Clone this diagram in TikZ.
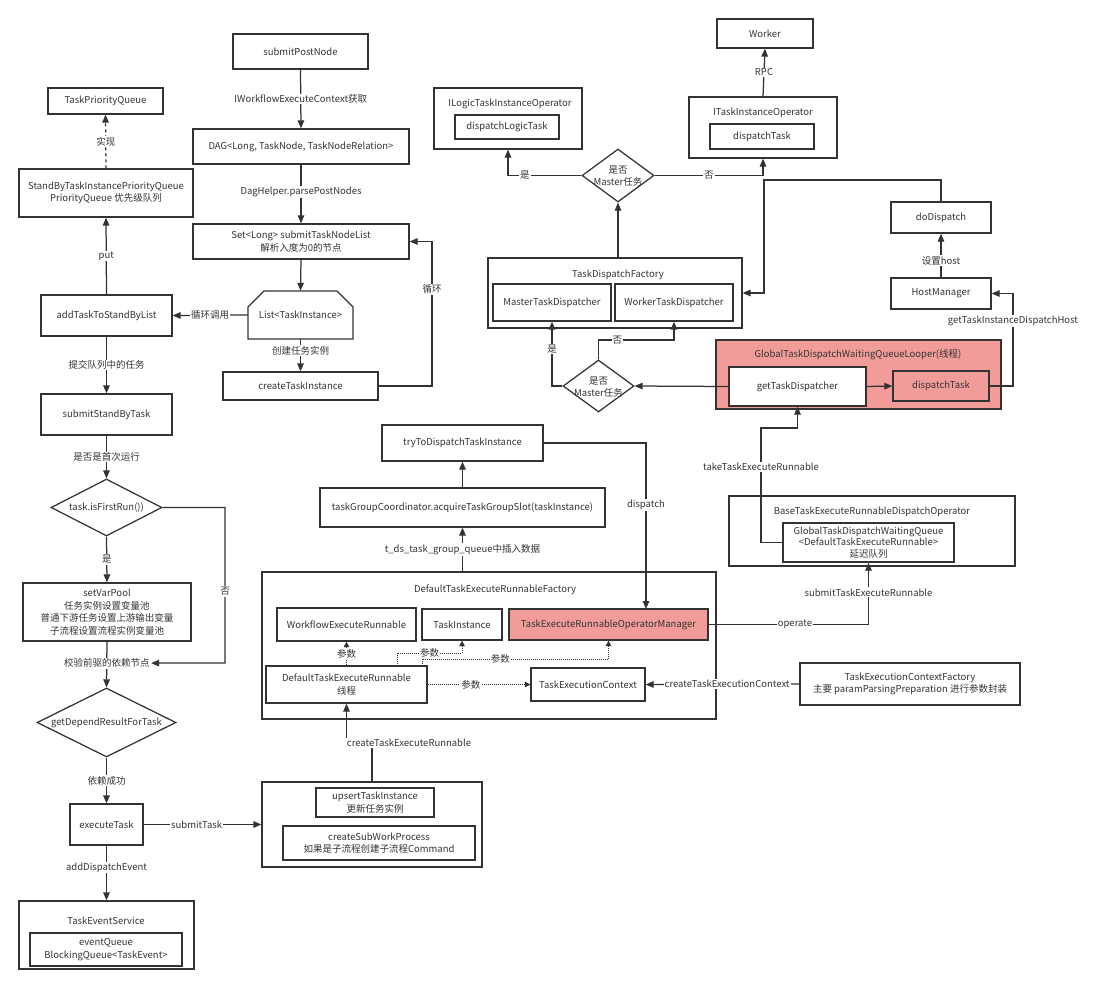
\documentclass[tikz,border=0pt]{standalone}
\usepackage{fontspec}
\setmainfont{Noto Sans CJK SC}
\usetikzlibrary{arrows.meta,shapes.geometric,calc}
\definecolor{ink}{HTML}{333333}
\definecolor{redf}{HTML}{F19C99}
\begin{document}
\begin{tikzpicture}[x=1pt,y=-1pt,
  every node/.style={font=\fontsize{9.5}{12.5}\selectfont, text=ink},
  box/.style={draw=ink, line width=1.25pt, fill=white, inner sep=1pt, align=center},
  cont/.style={draw=ink, line width=1.25pt, fill=white, inner sep=0pt},
  dia/.style={draw=ink, line width=1.25pt, fill=white, diamond, inner sep=0pt},
  txt/.style={align=center, inner sep=0pt},
  wire/.style={draw=ink, line width=1.25pt},
  arr/.style={draw=ink, line width=1.25pt, -{Triangle[length=8pt,width=6.5pt]}},
  darr/.style={draw=ink, line width=1pt, densely dotted, -{Triangle[length=5.5pt,width=5.5pt]}},
  lbl/.style={fill=white, inner sep=1pt, align=center}
]
\path[fill=white] (0,0) rectangle (1098,988);
\useasboundingbox (0,0) rectangle (1098,988);

% ---------------- left column ----------------
\node[box, minimum width=115pt, minimum height=26pt] (tpq) at (105.5,101) {TaskPriorityQueue};
\node[box, minimum width=174pt, minimum height=48pt] (sbq) at (106,193) {StandByTaskInstancePriorityQueue\\PriorityQueue 优先级队列};
\node[box, minimum width=131pt, minimum height=41pt] (add) at (106.5,315.5) {addTaskToStandByList};
\node[box, minimum width=131pt, minimum height=41pt] (sst) at (106.5,414.5) {submitStandByTask};
\node[dia, minimum width=111pt, minimum height=57pt] (fr) at (106.5,507.5) {};
\node[txt] (frt) at (fr) {task.isFirstRun())};
\node[box, minimum width=168pt, minimum height=58pt] (svp) at (107,612) {setVarPool\\任务实例设置变量池\\普通下游任务设置上游输出变量\\子流程设置流程实例变量池};
\node[dia, minimum width=139pt, minimum height=69pt] (gd) at (106.5,722.5) {};
\node[txt] (gdt) at (gd) {getDependResultForTask};
\node[box, minimum width=73pt, minimum height=41pt] (ex) at (106.5,824.5) {executeTask};
\node[cont, minimum width=175pt, minimum height=68pt] (tes) at (106.5,935) {};
\node[txt] (test) at (106,921) {TaskEventService};
\node[box, minimum width=152pt, minimum height=33pt] (eq) at (106,949.5) {eventQueue\\BlockingQueue<TaskEvent>};

% ---------------- middle top column ----------------
\node[box, minimum width=135pt, minimum height=35pt] (spn) at (300.5,51.5) {submitPostNode};
\node[box, minimum width=216pt, minimum height=35pt] (dag) at (301,146.5) {DAG<Long, TaskNode, TaskNodeRelation>};
\node[box, minimum width=216pt, minimum height=35pt] (set) at (301,241.5) {Set<Long> submitTaskNodeList\\解析入度为0的节点};
\draw[wire, fill=white] (248,339) -- (248,307) -- (264,291) -- (337,291) -- (353,307) -- (353,339) -- cycle;
\node[txt, minimum width=105pt, minimum height=48pt] (lst) at (300.5,315) {List<TaskInstance>};
\node[box, minimum width=155pt, minimum height=28pt] (cti) at (300.5,386) {createTaskInstance};

% ---------------- top right ----------------
\node[box, minimum width=96pt, minimum height=29pt] (wk) at (765,33.5) {Worker};
\node[cont, minimum width=148pt, minimum height=61pt] (ilo) at (508,118.5) {};
\node[txt] (ilot) at (510,104) {ILogicTaskInstanceOperator};
\node[box, minimum width=104pt, minimum height=24pt] (dlt) at (507,127) {dispatchLogicTask};
\node[cont, minimum width=148pt, minimum height=61pt] (ito) at (763,127.5) {};
\node[txt] (itot) at (763,113) {ITaskInstanceOperator};
\node[box, minimum width=104pt, minimum height=25pt] (dt1) at (762,136.5) {dispatchTask};
\node[dia, minimum width=72pt, minimum height=53pt] (d1) at (618,175.5) {};
\node[txt] (d1t) at (618,176) {是否\\Master任务};
\node[cont, minimum width=254pt, minimum height=70pt] (tdf) at (615,293) {};
\node[txt] (tdft) at (618,275) {TaskDispatchFactory};
\node[box, minimum width=118pt, minimum height=37pt] (mtd) at (552,302.5) {MasterTaskDispatcher};
\node[box, minimum width=118pt, minimum height=37pt] (wtd) at (674,302.5) {WorkerTaskDispatcher};
\node[dia, minimum width=71pt, minimum height=52pt] (d2) at (598.5,386) {};
\node[txt] (d2t) at (598.5,387) {是否\\Master任务};
\node[box, minimum width=100pt, minimum height=31pt] (dd) at (941,217.5) {doDispatch};
\node[box, minimum width=100pt, minimum height=31pt] (hm) at (941,293.5) {HostManager};
\node[cont, fill=redf, minimum width=285pt, minimum height=69pt] (gl) at (858.5,374.5) {};
\node[txt] (glt) at (858,355) {GlobalTaskDispatchWaitingQueueLooper(线程)};
\node[box, minimum width=137pt, minimum height=39pt] (gtd) at (797.5,386.5) {getTaskDispatcher};
\node[box, fill=redf, minimum width=96pt, minimum height=30pt] (dt2) at (941,386) {dispatchTask};

% ---------------- middle ----------------
\node[box, minimum width=161pt, minimum height=36pt] (try) at (462.5,443) {tryToDispatchTaskInstance};
\node[box, minimum width=285pt, minimum height=39pt] (tgc) at (462.5,507.5) {taskGroupCoordinator.acquireTaskGroupSlot(taskInstance)};
\node[cont, minimum width=454pt, minimum height=147pt] (fac) at (489,645.5) {};
\node[txt] (fact) at (495,590) {DefaultTaskExecuteRunnableFactory};
\node[box, minimum width=139pt, minimum height=33pt] (wer) at (346.5,624.5) {WorkflowExecuteRunnable};
\node[box, minimum width=80pt, minimum height=31pt] (ti) at (462,624.5) {TaskInstance};
\node[box, fill=redf, minimum width=199pt, minimum height=31pt] (trom) at (608.5,624.5) {TaskExecuteRunnableOperatorManager};
\node[box, minimum width=161pt, minimum height=37pt] (dter) at (346.5,684.5) {DefaultTaskExecuteRunnable\\线程};
\node[box, minimum width=114pt, minimum height=33pt] (tec) at (588,684.5) {TaskExecutionContext};
\node[cont, minimum width=286pt, minimum height=70pt] (bo) at (872,531) {};
\node[txt] (bot) at (872,512) {BaseTaskExecuteRunnableDispatchOperator};
\node[box, minimum width=171pt, minimum height=39pt, inner sep=0pt, font=\fontsize{9.5}{11.5}\selectfont] (gq) at (868.5,542.5) {GlobalTaskDispatchWaitingQueue\\<DefaultTaskExecuteRunnable>\\延迟队列};
\node[box, minimum width=220pt, minimum height=42pt] (tecf) at (910,684) {TaskExecutionContextFactory\\主要 paramParsingPreparation 进行参数封装};
\node[cont, minimum width=220pt, minimum height=85pt] (ups) at (372,824.5) {};
\node[box, minimum width=118pt, minimum height=29pt] (up) at (375,802.5) {upsertTaskInstance\\更新任务实例};
\node[box, minimum width=192pt, minimum height=34pt] (csw) at (379,843) {createSubWorkProcess\\如果是子流程创建子流程Command};

% ---------------- connectors: left ----------------
\draw[arr, dashed] (sbq.north) -- node[lbl]{实现} (tpq.south);
\draw[arr] (add.north) -- node[lbl]{put} (sbq.south);
\draw[arr] (lst.west) -- node[lbl]{循环调用} (add.east);
\draw[arr] (add.south) -- node[lbl]{提交队列中的任务} (sst.north);
\draw[arr] (sst.south) -- node[lbl]{是否是首次运行} (fr.north);
\draw[arr] (fr.south) -- node[lbl]{是} (svp.north);
\draw[arr] (svp.south) -- node[lbl, pos=.47] (chk) {校验前驱的依赖节点} (gd.north);
\draw[arr] (fr.east) -- (225,507.5) -- node[lbl, pos=.54]{否} (225,663) -- (chk.east);
\draw[arr] (gd.south) -- node[lbl]{依赖成功} (ex.north);
\draw[arr] (ex.south) -- node[lbl, pos=.4]{addDispatchEvent} (tes.north);
\draw[arr] (ex.east) -- node[lbl, pos=.45]{submitTask} (ups.west);

% ---------------- connectors: middle top ----------------
\draw[arr] (spn.south) -- node[lbl]{IWorkflowExecuteContext获取} (dag.north);
\draw[arr] (dag.south) -- node[lbl, pos=.47]{DagHelper.parsePostNodes} (set.north);
\draw[arr] (set.south) -- (lst.north);
\draw[arr] (lst.south) -- node[lbl, pos=.35]{创建任务实例} (cti.north);
\draw[arr] (cti.east) -- (432,386) -- node[lbl, pos=.67]{循环} (432,241.5) -- (set.east);

% ---------------- connectors: top right ----------------
\draw[arr] (ito.north) -- node[lbl]{RPC} (wk.south);
\draw[arr] (d1.west) -| node[lbl, pos=.385]{是} (ilo.south);
\draw[arr] (d1.east) -| node[lbl, pos=.25]{否} (ito.south);
\draw[arr] (tdf.north -| d1.south) -- (d1.south);
\draw[arr] (d2.west) -| node[lbl, pos=.785]{是} (mtd.south);
\draw[arr] (d2.north) -- (598.5,340) -- node[lbl, pos=.25]{否} (674,340) -- (wtd.south);
\draw[arr] (gtd.west) -- (d2.east);
\draw[arr] (gtd.east) -- (dt2.west);
\draw[arr] (dt2.east) -- (1013,386) -- node[lbl, pos=.7]{getTaskInstanceDispatchHost} (1013,293.5) -- (hm.east);
\draw[arr] (hm.north) -- node[lbl, pos=.38]{设置host} (dd.south);
\draw[arr] (dd.north) -- (941,180) -- (764,180) -- (764,293) -- (tdf.east);

% ---------------- connectors: middle ----------------
\draw[arr] (tgc.north) -- (try.south);
\draw[arr] (tgc.south |- fac.north) -- node[lbl, pos=.5]{t\_ds\_task\_group\_queue中插入数据} (tgc.south);
\coordinate (dpin) at (646,609);
\draw[arr] (try.east) -| node[lbl, pos=.687]{dispatch} (dpin);
\draw[arr] (trom.east) -| node[lbl, pos=.27]{operate} node[lbl, pos=.76]{submitTaskExecuteRunnable} (gq.south);
\draw[arr] (gq.west) -- (761,542.5) -- node[lbl, pos=.66]{takeTaskExecuteRunnable} (761,428) -- (797.5,428) -- (gtd.south);
\draw[arr] (tecf.west) -- node[lbl, pos=.47]{createTaskExecutionContext} (tec.east);
\draw[darr] (dter.north) -- node[lbl]{参数} (wer.south);
\draw[darr] (397,666) -- (397,653) -- node[lbl, pos=.5]{参数} (462,653) -- (ti.south);
\draw[darr] (422,666) -- (422,659) -- node[lbl, pos=.42]{参数} (608.5,659) -- (trom.south);
\draw[darr] (dter.east) -- node[lbl, pos=.42]{参数} (tec.west);
\draw[arr] (ups.north) -- (372,743) -- (346.5,743) -- (dter.south);
\node[lbl] (ctr) at (409,743) {createTaskExecuteRunnable};
\end{tikzpicture}
\end{document}
